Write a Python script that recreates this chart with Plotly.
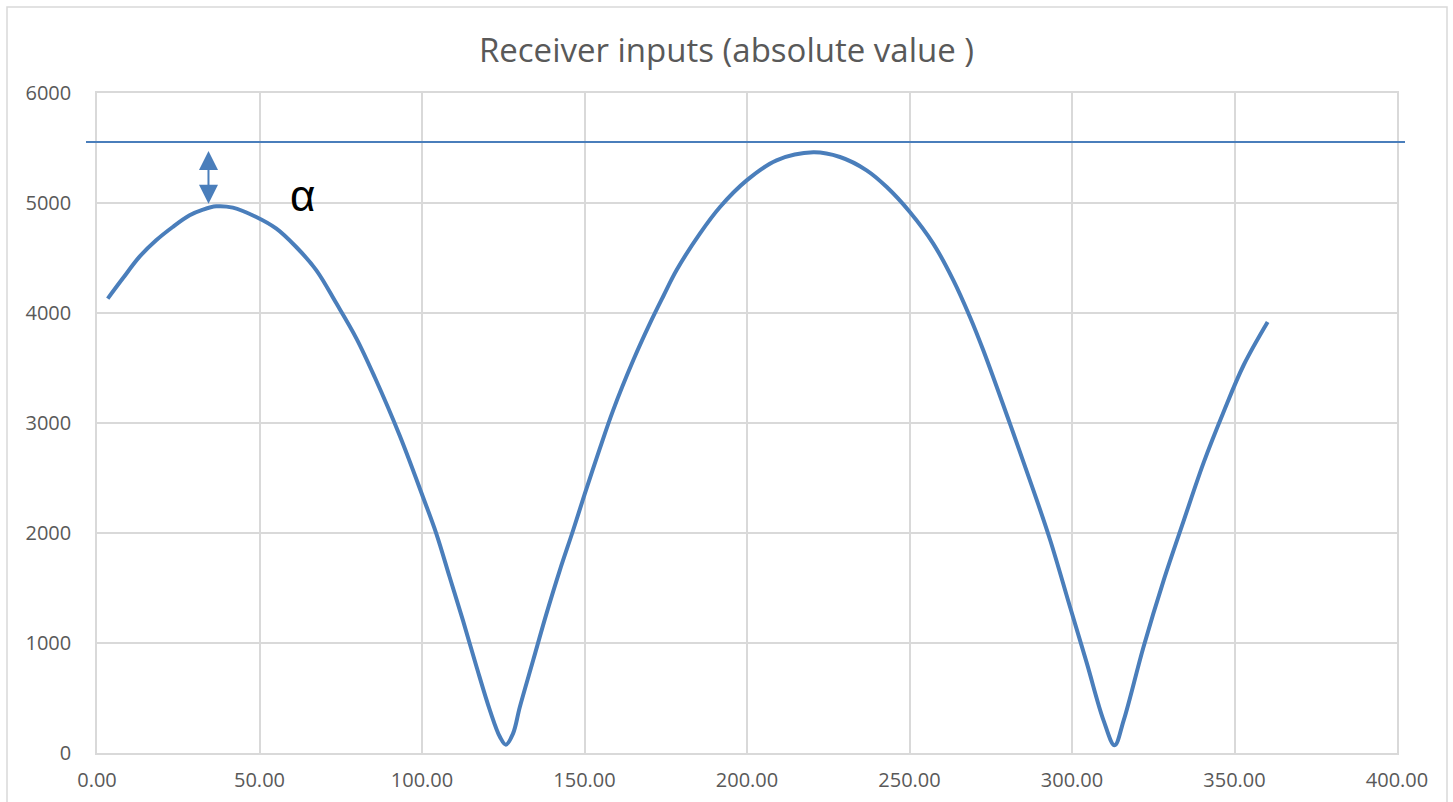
import plotly.graph_objects as go

# Traced data (angle, absolute receiver input)
angle = [3.3, 7.9, 13.1, 18.2, 23.3, 28.5, 32.6, 36.7, 41.8, 49.0, 55.2, 61.3, 67.5,
         73.6, 79.8, 85.4, 93.1, 100.3, 104.4, 108.5, 112.6, 116.8, 120.9, 124.0,
         125.8, 128.0, 130.1, 134.2, 138.3, 142.4, 146.5, 150.1, 154.7, 158.8, 165.0,
         170.1, 174.2, 178.3, 185.5, 191.7, 199.9, 209.1, 220.4, 228.6, 236.8, 243.0,
         250.1, 257.3, 263.5, 268.6, 272.7, 280.9, 288.1, 293.3, 299.4, 304.6, 309.7,
         313.1, 315.9, 322.0, 328.2, 334.4, 340.5, 346.7, 352.8, 360.2]
value = [4131, 4313, 4512, 4661, 4782, 4888, 4940, 4970, 4958, 4873, 4767, 4600, 4388,
         4090, 3770, 3420, 2888, 2327, 1995, 1600, 1206, 782, 388, 145,
         76, 176, 418, 843, 1267, 1661, 2025, 2358, 2767, 3115, 3570,
         3903, 4150, 4388, 4722, 4964, 5206, 5388, 5461, 5418, 5297, 5145,
         4918, 4631, 4297, 3964, 3661, 2994, 2390, 1934, 1327, 812, 297,
         70, 297, 964, 1570, 2115, 2640, 3105, 3525, 3918]

threshold = 5555          # horizontal reference line
arrow_x = 34.3
arrow_low = 4979
arrow_high = 5473
alpha_x = 63.1
alpha_y = 5070

title_text = "Receiver inputs (absolute value )"
x_ticks = [0, 50, 100, 150, 200, 250, 300, 350, 400]
x_tick_labels = ["0.00", "50.00", "100.00", "150.00", "200.00", "250.00", "300.00", "350.00", "400.00"]
y_ticks = [0, 1000, 2000, 3000, 4000, 5000, 6000]

line_color = "#4a7ebb"
grid_color = "#d9d9d9"
text_color = "#595959"

fig = go.Figure()
fig.add_trace(go.Scatter(x=angle, y=value, mode="lines",
                         line=dict(color=line_color, width=4, shape="spline", smoothing=1.0),
                         showlegend=False, hoverinfo="x+y"))

W, H = 1453, 802
ml, mr, mt, mb = 97, 56, 93, 49
pw, ph = W - ml - mr, H - mt - mb

def px_x(p):
    return (p - ml) / pw

def px_y(p):
    return (H - mb - p) / ph

fig.update_layout(
    width=W, height=H,
    margin=dict(l=ml, r=mr, t=mt, b=mb),
    paper_bgcolor="white", plot_bgcolor="white",
    title=dict(text=title_text, x=0.5, xref="container", xanchor="center",
               y=1 - 50 / H, yref="container", yanchor="middle",
               font=dict(family="Open Sans", size=33, color=text_color)),
    font=dict(family="Open Sans", size=20, color=text_color),
    xaxis=dict(range=[0, 400], tickvals=x_ticks, ticktext=x_tick_labels,
               showgrid=True, gridcolor=grid_color, gridwidth=1.5,
               showline=True, linecolor=grid_color, linewidth=1.5, mirror=True,
               zeroline=False, ticks="", ticklabelstandoff=8, automargin=False,
               tickfont=dict(family="Open Sans", size=20, color=text_color)),
    yaxis=dict(range=[0, 6000], tickvals=y_ticks,
               showgrid=True, gridcolor=grid_color, gridwidth=1.5,
               showline=True, linecolor=grid_color, linewidth=1.5, mirror=True,
               zeroline=True, zerolinecolor="#bfbfbf", zerolinewidth=1.5,
               ticks="", ticklabelstandoff=20, automargin=False,
               tickfont=dict(family="Open Sans", size=20, color=text_color)),
    shapes=[
        # outer chart border
        dict(type="rect", xref="paper", yref="paper",
             x0=px_x(7), x1=px_x(1447), y0=px_y(815), y1=px_y(7),
             line=dict(color=grid_color, width=1.5), fillcolor="rgba(0,0,0,0)", layer="below"),
        # horizontal reference line
        dict(type="line", xref="paper", yref="paper",
             x0=px_x(86), x1=px_x(1405),
             y0=threshold / 6000, y1=threshold / 6000,
             line=dict(color=line_color, width=2)),
    ],
    annotations=[
        dict(x=arrow_x, y=arrow_high, ax=arrow_x, ay=arrow_low, xref="x", yref="y",
             axref="x", ayref="y", showarrow=True, arrowhead=2, startarrowhead=2,
             arrowside="end+start", arrowsize=1.9, arrowwidth=2, arrowcolor=line_color,
             standoff=0, startstandoff=0, text=""),
        dict(x=alpha_x, y=alpha_y, xref="x", yref="y", text="α", showarrow=False,
             xanchor="center", yanchor="middle",
             font=dict(family="Liberation Sans", size=44, color="black")),
    ],
)

fig.write_html("out.html", config={"displayModeBar": False},
               post_script="document.body.style.margin='0';")
